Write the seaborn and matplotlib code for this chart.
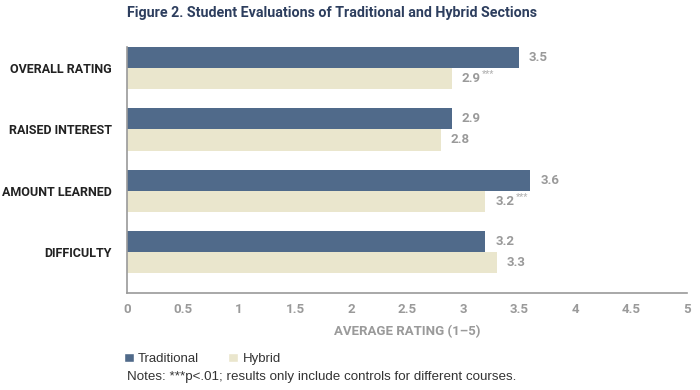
import pandas as pd
import matplotlib.pyplot as plt
import seaborn as sns
from matplotlib.patches import Patch

# Data
categories = ["OVERALL RATING", "RAISED INTEREST", "AMOUNT LEARNED", "DIFFICULTY"]
traditional = [3.5, 2.9, 3.6, 3.2]
hybrid = [2.9, 2.8, 3.2, 3.3]
hybrid_sig = ["***", "", "***", ""]
x_ticks = [0, 0.5, 1, 1.5, 2, 2.5, 3, 3.5, 4, 4.5, 5]

df = pd.DataFrame({
    "Category": categories * 2,
    "Rating": traditional + hybrid,
    "Section": ["Traditional"] * 4 + ["Hybrid"] * 4,
})

colors = {"Traditional": "#506A8A", "Hybrid": "#EAE6CD"}
grey = "#9A9A9A"
narrow = ["Roboto", "DejaVu Sans"]

sns.set_style("white")
plt.rcParams["font.family"] = ["Liberation Sans", "DejaVu Sans"]

fig = plt.figure(figsize=(7, 3.9), dpi=100)
ax = fig.add_axes([127 / 700, 1 - 293 / 390, 560 / 700, 246 / 390])

sns.barplot(
    data=df,
    x="Rating",
    y="Category",
    hue="Section",
    palette=colors,
    width=0.69,
    ax=ax,
    legend=False,
    saturation=1,
    linewidth=0,
)

ax.set_xlim(0, 5)
ax.set_ylim(3.67, -0.345)
ax.set_xticks(x_ticks)
ax.set_xticklabels([f"{t:g}" for t in x_ticks], color=grey,
                   fontsize=9.5, fontweight="bold", family=narrow)
ax.tick_params(axis="x", direction="in", length=5, color=grey, width=1, pad=7)
ax.tick_params(axis="y", length=0, pad=11)
for lab in ax.get_yticklabels():
    lab.set_fontsize(9)
    lab.set_fontweight("bold")
    lab.set_color("#222222")
    lab.set_family(narrow)

for side in ["top", "right"]:
    ax.spines[side].set_visible(False)
for side in ["left", "bottom"]:
    ax.spines[side].set_color(grey)
    ax.spines[side].set_linewidth(1.2)

ax.set_ylabel("")
ax.set_xlabel("AVERAGE RATING (1–5)", color=grey, fontsize=9.5,
              fontweight="bold", family=narrow, labelpad=7)

# Value labels
off = 0.69 / 4
for i, (t, h, s) in enumerate(zip(traditional, hybrid, hybrid_sig)):
    ax.text(t + 0.09, i - off, f"{t:.1f}", va="center", ha="left",
            color=grey, fontsize=9.5, fontweight="bold", family=narrow)
    txt = ax.text(h + 0.09, i + off, f"{h:.1f}", va="center", ha="left",
                  color=grey, fontsize=9.5, fontweight="bold", family=narrow)
    if s:
        ax.annotate(s, xy=(1, 0.8), xycoords=txt, xytext=(1, 0),
                    textcoords="offset points", va="center", ha="left",
                    color="#B5B5B5", fontsize=6.5, fontweight="bold", family=narrow)

fig.text(127 / 700, 1 - 13 / 390,
         "Figure 2. Student Evaluations of Traditional and Hybrid Sections",
         color="#2D3E5E", fontsize=10.3, fontweight="bold", va="center",
         family=narrow)

handles = [Patch(facecolor=colors["Traditional"], label="Traditional"),
           Patch(facecolor=colors["Hybrid"], label="Hybrid")]
fig.legend(handles=handles, loc="center left",
           bbox_to_anchor=(121 / 700, 1 - 359 / 390), ncol=2, frameon=False,
           fontsize=9.5, handlelength=0.75, handleheight=0.75,
           handletextpad=0.35, columnspacing=2.2, labelcolor="#333333",
           borderaxespad=0, borderpad=0.2)

fig.text(127 / 700, 1 - 377 / 390,
         "Notes: ***p<.01; results only include controls for different courses.",
         color="#333333", fontsize=9.6, va="center")

fig.savefig("out.png", dpi=100)
